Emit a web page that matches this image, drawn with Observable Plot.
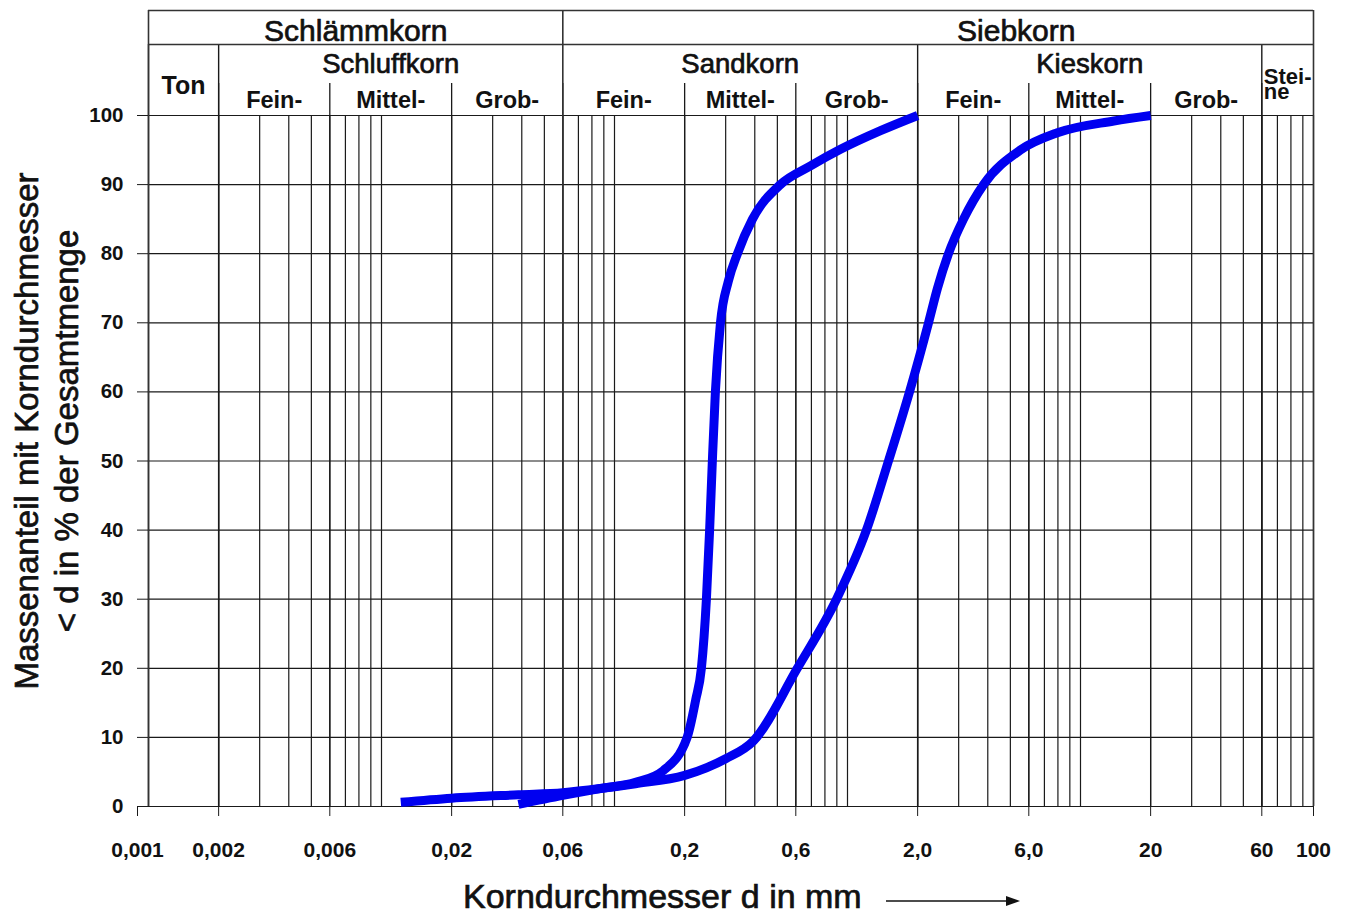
<!DOCTYPE html>
<html><head><meta charset="utf-8">
<script src="https://cdn.jsdelivr.net/npm/d3@7"></script>
<script src="https://cdn.jsdelivr.net/npm/@observablehq/plot@0.6"></script>
<style>
body{margin:0;background:#fff;font-family:"Liberation Sans",Arial,sans-serif;}
#chart svg{display:block;}
#xtitle{position:relative;width:1345px;height:48px;}
#xt{position:absolute;left:463px;top:13px;font-size:34px;line-height:34px;color:#111;white-space:nowrap;-webkit-text-stroke:0.7px #111;}
#xarrow{position:absolute;left:886px;top:28px;}
</style></head><body>
<div id="chart"></div>
<div id="xtitle"><span id="xt">Korndurchmesser d in mm</span>
<svg id="xarrow" width="136" height="14"><line x1="0" y1="7" x2="122" y2="7" stroke="#111" stroke-width="1.6"/><polygon points="120,2 134,7 120,12" fill="#111"/></svg></div>
<script>
// ---- curve data (grain diameter in mm, mass passing in %) ----
const sandD   = [0.0387, 0.06, 0.087, 0.123, 0.162, 0.205, 0.223, 0.236, 0.248, 0.256, 0.263, 0.271, 0.285, 0.308, 0.337, 0.391, 0.515, 0.694, 0.933, 1.386, 2.0];
const sandP   = [0.3,    1.6,  2.6,   3.5,   5.2,   10,    15.4,  20,    30,    40,    50,    60,    70,    76,    80,    85,    90,    92.7,  95.1,  97.8,  100];
const gravelD = [0.0121, 0.02, 0.0387, 0.06, 0.087, 0.123, 0.2, 0.3, 0.395, 0.609, 0.897, 1.206, 1.499, 1.845, 2.227, 2.433, 2.712, 3.147, 3.837, 5.52, 7.96, 13.9, 20];
const gravelP = [0.6,    1.2,  1.7,    2.0,  2.6,   3.3,   4.5, 6.9, 9.5,   20,    30,    40,    50,    60,    70,    75,    80,    85,    90,    95,   97.5, 99.2, 100];

// ---- axes ----
const xTickValues = [0.001, 0.002, 0.006, 0.02, 0.06, 0.2, 0.6, 2, 6, 20, 60, 100];
const xTickLabels = ["0,001", "0,002", "0,006", "0,02", "0,06", "0,2", "0,6", "2,0", "6,0", "20", "60", "100"];
const yTickValues = [0, 10, 20, 30, 40, 50, 60, 70, 80, 90, 100];
const gridDecades = [0.001, 0.01, 0.1, 1, 10];
const gridMultipliers = [2, 3, 4, 5, 6, 7, 8, 9, 10];
const yTitle = "Massenanteil mit Korndurchmesser\n< d in % der Gesamtmenge";

// ---- grain-size classification header ----
const level1Names  = ["Schlämmkorn", "Siebkorn"];
const level1Bounds = [0.001, 0.06, 100];
const level1At     = [0.00775, 5.3];
const level2Names  = ["Schluffkorn", "Sandkorn", "Kieskorn"];
const level2Bounds = [0.002, 0.06, 2, 60];
const tonName = "Ton";
const tonBounds = [0.001, 0.002];
const steineName = "Stei-\nne";
const steineBounds = [60, 100];
const level3Names  = ["Fein-", "Mittel-", "Grob-", "Fein-", "Mittel-", "Grob-", "Fein-", "Mittel-", "Grob-"];
const level3Bounds = [0.002, 0.006, 0.02, 0.06, 0.2, 0.6, 2, 6, 20, 60];

// ---- build tables ----
const sandTable = sandD.map((d, i) => ({d, p: sandP[i]}));
const gravelTable = gravelD.map((d, i) => ({d, p: gravelP[i]}));
const gridLines = gridDecades.flatMap(dec => gridMultipliers.map(m => +(dec * m).toPrecision(6)));
const gmean = (a, b) => Math.sqrt(a * b);
const level1 = level1Names.map((name, i) => ({name, at: level1At[i]}));
const level2 = level2Names.map((name, i) => ({name, at: gmean(level2Bounds[i], level2Bounds[i + 1])}));
const level3 = level3Names.map((name, i) => ({name, at: gmean(level3Bounds[i], level3Bounds[i + 1])}));
const tickLabel = new Map(xTickValues.map((v, i) => [v, xTickLabels[i]]));

const lineColor = "#1a1a1a";
const ink = "#111";
const curveColor = "#0000f0";
const font = "'Liberation Sans', Arial, sans-serif";
const heavy = {fill: ink, stroke: ink, strokeWidth: 0.7, paintOrder: "stroke"};
const xAxisStyle = {tickSize: 10, tickPadding: 26, text: d => tickLabel.get(d), fontSize: 21, fontWeight: "bold", stroke: lineColor, label: null};

const chart = Plot.plot({
  width: 1345, height: 866,
  marginTop: 115, marginBottom: 60, marginLeft: 148, marginRight: 32,
  x: {type: "log", domain: [0.001, 100], axis: null},
  y: {domain: [0, 100], axis: null},
  style: {fontFamily: font, background: "#fff", color: ink, overflow: "visible"},
  marks: [
    Plot.ruleX(gridLines, {stroke: lineColor, strokeWidth: 1.2}),
    Plot.ruleY(yTickValues, {stroke: lineColor, strokeWidth: 1.2}),
    Plot.ruleX(level3Bounds, {stroke: lineColor, strokeWidth: 1.3, insetTop: -32}),
    Plot.ruleX([...tonBounds, ...level2Bounds.slice(2)], {stroke: lineColor, strokeWidth: 1.4, insetTop: -71}),
    Plot.ruleX(level1Bounds, {stroke: "#333", strokeWidth: 1.6, insetTop: -105}),
    Plot.ruleY([100], {stroke: "#333", strokeWidth: 1.6, dy: -71}),
    Plot.ruleY([100], {stroke: "#333", strokeWidth: 1.6, dy: -105}),
    Plot.axisX(xTickValues.slice(0, 1), {...xAxisStyle, dx: -11}),
    Plot.axisX(xTickValues.slice(1), xAxisStyle),
    Plot.axisY(yTickValues, {tickSize: 11, tickPadding: 14, fontSize: 20.5, fontWeight: "bold", stroke: lineColor, label: null}),
    Plot.text(level1, {x: "at", text: "name", frameAnchor: "top", lineAnchor: "bottom", dy: -75, fontSize: 30, ...heavy}),
    Plot.text(level2, {x: "at", text: "name", frameAnchor: "top", lineAnchor: "bottom", dy: -43, fontSize: 27.5, ...heavy}),
    Plot.text([tonName], {x: gmean(tonBounds[0], tonBounds[1]), frameAnchor: "top", lineAnchor: "bottom", dy: -22, fontSize: 25, fontWeight: "bold", fill: ink}),
    Plot.text([steineName], {x: steineBounds[0], frameAnchor: "top", lineAnchor: "bottom", textAnchor: "start", dx: 2, dy: -17, fontSize: 22, fontWeight: "bold", lineHeight: 0.64, fill: ink}),
    Plot.text(level3, {x: "at", text: "name", frameAnchor: "top", lineAnchor: "bottom", dy: -8, fontSize: 23.5, fontWeight: "bold", fill: ink}),
    Plot.line(gravelTable, {x: "d", y: "p", stroke: curveColor, strokeWidth: 9, curve: "monotone-x", strokeLinecap: "butt", strokeLinejoin: "round"}),
    Plot.line(sandTable, {x: "d", y: "p", stroke: curveColor, strokeWidth: 9, curve: "monotone-x", strokeLinecap: "butt", strokeLinejoin: "round"}),
    Plot.text([yTitle], {frameAnchor: "left", textAnchor: "middle", rotate: -90, dx: -103, dy: -30, fontSize: 33, lineHeight: 1.2, ...heavy})
  ]
});
document.getElementById("chart").appendChild(chart);
</script>
</body></html>
